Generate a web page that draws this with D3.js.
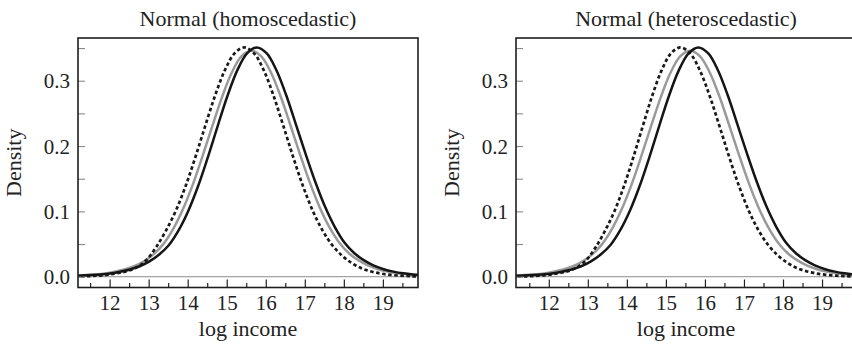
<!DOCTYPE html>
<meta charset="utf-8">
<style>
body { margin: 0; background: #fff; }
svg text { font-family: "Liberation Serif", "Times New Roman", Tinos, "DejaVu Serif", serif; fill: #222; }
</style>
<body>
<script src="https://cdn.jsdelivr.net/npm/d3@7"></script>
<script>
// densities, [log income, density]
var homBlack = [[11.02,0.0013],[11.27,0.0018],[11.52,0.0025],[11.77,0.0035],[12.02,0.005],[12.27,0.0075],[12.52,0.011],[12.77,0.016],[13.02,0.0235],[13.27,0.034],[13.52,0.0486],[13.77,0.0713],[14.02,0.1015],[14.27,0.1393],[14.52,0.1836],[14.77,0.231],[15.02,0.277],[15.27,0.3158],[15.52,0.3419],[15.77,0.351],[16.02,0.3421],[16.27,0.3165],[16.52,0.2785],[16.77,0.2335],[17.02,0.188],[17.27,0.145],[17.52,0.107],[17.77,0.076],[18.02,0.052],[18.27,0.036],[18.52,0.025],[18.77,0.017],[19.02,0.0115],[19.27,0.0078],[19.52,0.0052],[19.77,0.0035],[20.02,0.0025]];
var homGray = [[11.13,0.0018],[11.38,0.0025],[11.63,0.0035],[11.88,0.005],[12.13,0.0075],[12.38,0.011],[12.63,0.016],[12.88,0.0235],[13.13,0.0345],[13.38,0.0503],[13.63,0.0732],[13.88,0.1035],[14.13,0.141],[14.38,0.1845],[14.63,0.2305],[14.88,0.275],[15.13,0.3125],[15.38,0.3375],[15.63,0.346],[15.88,0.3378],[16.13,0.313],[16.38,0.2762],[16.63,0.2322],[16.88,0.187],[17.13,0.144],[17.38,0.1065],[17.63,0.076],[17.88,0.0525],[18.13,0.036],[18.38,0.025],[18.63,0.017],[18.88,0.0115],[19.13,0.0078],[19.38,0.0052],[19.63,0.0035],[19.88,0.0025],[20.13,0.0018]];
var homDashed = [[10.95,0],[11.2,0.0003],[11.45,0.0008],[11.7,0.0016],[11.95,0.003],[12.2,0.0055],[12.45,0.0085],[12.7,0.0145],[12.95,0.026],[13.2,0.046],[13.45,0.0713],[13.7,0.1015],[13.95,0.1393],[14.2,0.1836],[14.45,0.231],[14.7,0.277],[14.95,0.3158],[15.2,0.3419],[15.45,0.351],[15.7,0.3419],[15.95,0.3158],[16.2,0.277],[16.45,0.231],[16.7,0.1836],[16.95,0.1393],[17.2,0.1015],[17.45,0.0713],[17.7,0.0486],[17.95,0.0325],[18.2,0.021],[18.45,0.013],[18.7,0.008],[18.95,0.0048],[19.2,0.0028],[19.45,0.0016],[19.7,0.0008],[19.95,0.0003]];

var hetBlack = [[11.08,0.0013],[11.33,0.0018],[11.58,0.0025],[11.83,0.0035],[12.08,0.005],[12.33,0.0075],[12.58,0.011],[12.83,0.016],[13.08,0.0235],[13.33,0.034],[13.58,0.0486],[13.83,0.0713],[14.08,0.1015],[14.33,0.1393],[14.58,0.1836],[14.83,0.231],[15.08,0.277],[15.33,0.3158],[15.58,0.3419],[15.83,0.351],[16.08,0.3421],[16.33,0.3165],[16.58,0.2785],[16.83,0.2335],[17.08,0.188],[17.33,0.145],[17.58,0.107],[17.83,0.076],[18.08,0.052],[18.33,0.036],[18.58,0.025],[18.83,0.017],[19.08,0.0115],[19.33,0.0078],[19.58,0.0052],[19.83,0.0035],[20.08,0.0025]];
var hetGray = [[11.12,0.0018],[11.37,0.0025],[11.62,0.0035],[11.87,0.005],[12.12,0.0075],[12.37,0.011],[12.62,0.016],[12.87,0.0235],[13.12,0.0345],[13.37,0.0503],[13.62,0.0732],[13.87,0.1035],[14.12,0.141],[14.37,0.1845],[14.62,0.2305],[14.87,0.275],[15.12,0.3125],[15.37,0.3375],[15.62,0.346],[15.87,0.3378],[16.12,0.313],[16.37,0.2762],[16.62,0.2322],[16.87,0.187],[17.12,0.144],[17.37,0.1065],[17.62,0.076],[17.87,0.0525],[18.12,0.036],[18.37,0.025],[18.62,0.017],[18.87,0.0115],[19.12,0.0078],[19.37,0.0052],[19.62,0.0035],[19.87,0.0025],[20.12,0.0018]];
var hetDashed = [[11.05,0],[11.29,0.0003],[11.53,0.0008],[11.77,0.0016],[12.01,0.003],[12.25,0.0055],[12.49,0.0085],[12.73,0.0145],[12.97,0.026],[13.21,0.046],[13.45,0.0713],[13.69,0.1015],[13.93,0.1393],[14.17,0.1836],[14.41,0.231],[14.65,0.277],[14.89,0.3158],[15.13,0.3419],[15.37,0.351],[15.62,0.3419],[15.87,0.3158],[16.12,0.277],[16.37,0.231],[16.62,0.1836],[16.87,0.1393],[17.12,0.1015],[17.37,0.0713],[17.62,0.0486],[17.87,0.0325],[18.12,0.021],[18.37,0.013],[18.62,0.008],[18.87,0.0048],[19.12,0.0028],[19.37,0.0016],[19.62,0.0008],[19.87,0.0003]];

var xMajor = [12, 13, 14, 15, 16, 17, 18, 19],
    xMinor = [11.5, 12.5, 13.5, 14.5, 15.5, 16.5, 17.5, 18.5, 19.5],
    yTicks = [0, 0.05, 0.1, 0.15, 0.2, 0.25, 0.3, 0.35],
    titles = ["Normal (homoscedastic)", "Normal (heteroscedastic)"];

var width = 852, height = 345,
    plotTop = 38, plotBottom = 287.5, pw = 340;

var panels = [
    {title: titles[0], left: 78,  xdom: [11.19, 19.9],  lines: [homGray, homDashed, homBlack]},
    {title: titles[1], left: 516, xdom: [11.16, 19.87], lines: [hetGray, hetDashed, hetBlack]}
];
var styles = [
    {stroke: "#9a9a9a", w: 2.5, dash: null},
    {stroke: "#1a1a1a", w: 2.7, dash: "3.5,2.6"},
    {stroke: "#151515", w: 2.5, dash: null}
];

var svg = d3.select("body").append("svg")
    .attr("width", width)
    .attr("height", height);

var y = d3.scaleLinear().domain([-0.0165, 0.3654]).range([plotBottom, plotTop]);

panels.forEach(function(p, i) {
    var x = d3.scaleLinear().domain(p.xdom).range([p.left, p.left + pw]);
    var g = svg.append("g");

    g.append("clipPath").attr("id", "clip" + i)
      .append("rect")
        .attr("x", p.left).attr("y", plotTop)
        .attr("width", pw).attr("height", plotBottom - plotTop);

    // zero line
    g.append("line")
        .attr("x1", p.left).attr("x2", p.left + pw)
        .attr("y1", y(0)).attr("y2", y(0))
        .attr("stroke", "#8c8c8c").attr("stroke-width", 1);

    var line = d3.line()
        .x(function(d) { return x(d[0]); })
        .y(function(d) { return y(d[1]); })
        .curve(d3.curveCatmullRom.alpha(0.5));

    g.append("g").attr("clip-path", "url(#clip" + i + ")")
      .selectAll("path")
      .data(p.lines)
      .enter().append("path")
        .attr("d", line)
        .attr("fill", "none")
        .attr("stroke", function(d, j) { return styles[j].stroke; })
        .attr("stroke-width", function(d, j) { return styles[j].w; })
        .attr("stroke-dasharray", function(d, j) { return styles[j].dash; });

    // x axis, ticks pointing in
    var xa = g.append("g").attr("transform", "translate(0," + plotBottom + ")")
        .call(d3.axisBottom(x).tickValues(xMajor).tickSize(-8).tickPadding(8).tickFormat(d3.format("d")));
    var xm = g.append("g").attr("transform", "translate(0," + plotBottom + ")")
        .call(d3.axisBottom(x).tickValues(xMinor).tickSize(-4.5).tickFormat(""));
    xa.select(".domain").remove();
    xm.select(".domain").remove();
    xa.attr("font-family", null);
    xa.selectAll(".tick line").attr("stroke", "#222").attr("stroke-width", 1.2);
    xm.selectAll(".tick line").attr("stroke", "#222").attr("stroke-width", 1.2);
    xa.selectAll("text").attr("font-size", 21);

    var ya = g.append("g").attr("transform", "translate(" + p.left + ",0)")
        .call(d3.axisLeft(y).tickValues(yTicks).tickSize(-7).tickPadding(8)
            .tickFormat(function(d) { return Math.round(d * 100) % 10 === 0 ? d3.format(".1f")(d) : ""; }));
    ya.select(".domain").remove();
    ya.attr("font-family", null);
    ya.selectAll(".tick line").attr("stroke", "#8a8a8a").attr("stroke-width", 1.1);
    ya.selectAll("text").attr("font-size", 21).attr("dy", "0.34em");

    g.append("rect")
        .attr("x", p.left).attr("y", plotTop)
        .attr("width", pw).attr("height", plotBottom - plotTop)
        .attr("fill", "none").attr("stroke", "#1e1e1e").attr("stroke-width", 1.6);

    g.append("text")
        .attr("x", p.left + pw / 2).attr("y", 26)
        .attr("text-anchor", "middle").attr("font-size", 22)
        .text(p.title);

    g.append("text")
        .attr("x", p.left + pw / 2).attr("y", 336)
        .attr("text-anchor", "middle").attr("font-size", 22)
        .text("log income");

    g.append("text")
        .attr("transform", "translate(" + (p.left - 57) + "," + ((plotTop + plotBottom) / 2) + ") rotate(-90)")
        .attr("text-anchor", "middle").attr("font-size", 22)
        .text("Density");
});
</script>
</body>
